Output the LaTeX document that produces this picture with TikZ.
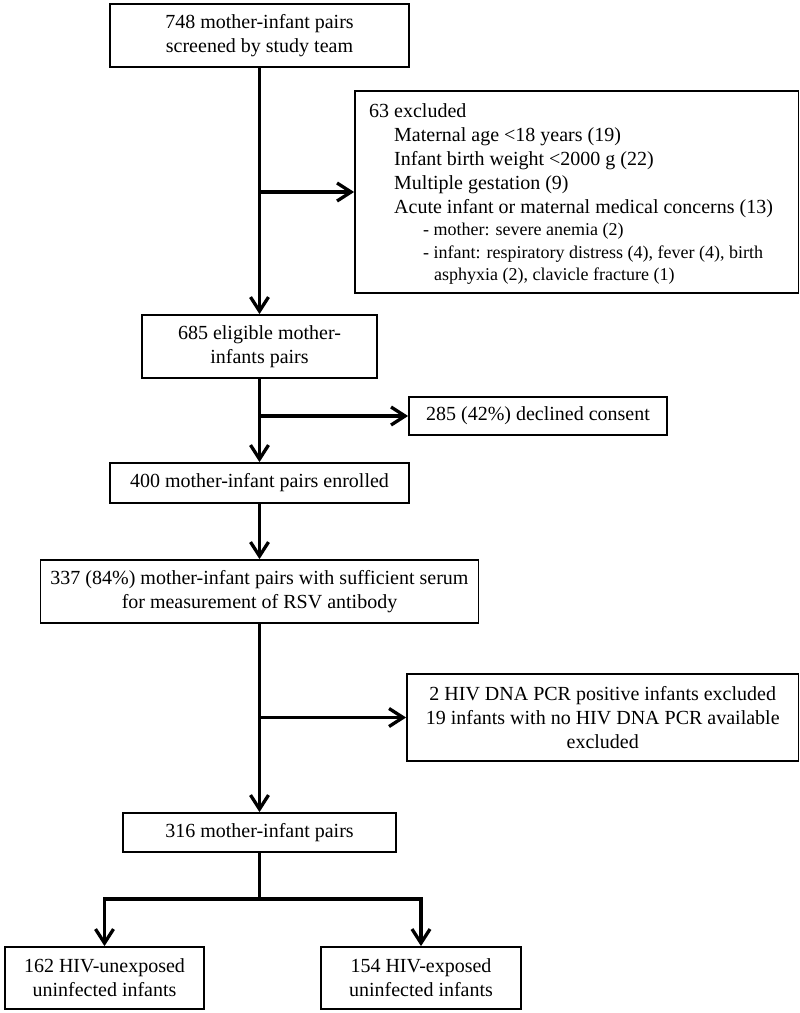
\documentclass[tikz,border=0pt]{standalone}
\usepackage{fontspec}
\setmainfont{Liberation Serif}
\usetikzlibrary{arrows.meta}
\begin{document}
\begin{tikzpicture}[x=1pt,y=-1pt,
  box/.style={draw, line width=1.8pt, inner sep=0pt, align=center,
    font=\fontsize{20}{24}\selectfont},
  conn/.style={line width=3.3pt},
  arr/.style={line width=3.3pt, -{Straight Barb[length=14pt,width=18pt]}},
  exmain/.style={anchor=base west, inner sep=0pt, font=\fontsize{20}{24}\selectfont},
  exsub/.style={anchor=base west, inner sep=0pt, font=\fontsize{18}{22}\selectfont}]
\useasboundingbox (0,0) rectangle (800,1013);

% boxes
\node[box, minimum width=299pt, minimum height=63pt] (b1) at (259.5,35.5)
  {748 mother-infant pairs\\screened by study team};
\node[box, minimum width=443.5pt, minimum height=202pt] (exc) at (576.75,192) {};
\node[box, minimum width=235.5pt, minimum height=63pt] (b685) at (259.5,346.5)
  {685 eligible mother-\\infants pairs};
\node[box, minimum width=258pt, minimum height=38pt] (b285) at (538,416)
  {285 (42\%) declined consent};
\node[box, minimum width=299pt, minimum height=40pt] (b400) at (259.5,483)
  {400 mother-infant pairs enrolled};
\node[box, minimum width=438pt, minimum height=63pt] (b337) at (259.5,591.5)
  {337 (84\%) mother-infant pairs with sufficient serum\\for measurement of RSV antibody};
\node[box, minimum width=391.5pt, minimum height=87pt] (hiv) at (602.75,717.5)
  {2 HIV DNA PCR positive infants excluded\\19 infants with no HIV DNA PCR available\\excluded};
\node[box, minimum width=273pt, minimum height=39pt] (b316) at (259.5,832.5)
  {316 mother-infant pairs};
\node[box, minimum width=199pt, minimum height=62pt] (bl) at (104.5,978)
  {162 HIV-unexposed\\uninfected infants};
\node[box, minimum width=200pt, minimum height=62pt] (br) at (421,978)
  {154 HIV-exposed\\uninfected infants};

% excluded box text
\node[exmain] (e1) at (369,117) {63 excluded};
\node[exmain] (e2) at (394,141) {Maternal age <18 years (19)};
\node[exmain] (e3) at (394,165) {Infant birth weight <2000 g (22)};
\node[exmain] (e4) at (394,189) {Multiple gestation (9)};
\node[exmain] (e5) at (394,213) {Acute infant or maternal medical concerns (13)};
\node[exsub] (e6) at (423,235) {- mother: severe anemia (2)};
\node[exsub] (e7) at (423,258) {- infant: respiratory distress (4), fever (4), birth};
\node[exsub] (e8) at (434,280) {asphyxia (2), clavicle fracture (1)};

% junctions
\coordinate (j1) at (259.5,192);
\coordinate (j2) at (259.5,416);
\coordinate (j3) at (259.5,717.5);
\coordinate (j4) at (259.5,899);

% connectors
\draw[arr] (b1.south) -- (b685.north);
\draw[arr] (j1) -- (exc.west);
\draw[arr] (b685.south) -- (b400.north);
\draw[arr] (j2) -- (b285.west);
\draw[arr] (b400.south) -- (b337.north);
\draw[arr] (b337.south) -- (b316.north);
\draw[arr] (j3) -- (hiv.west);
\draw[conn] (b316.south) -- (j4);
\draw[arr] (j4) -| (bl.north);
\draw[arr] (j4) -| (br.north);
\end{tikzpicture}
\end{document}
